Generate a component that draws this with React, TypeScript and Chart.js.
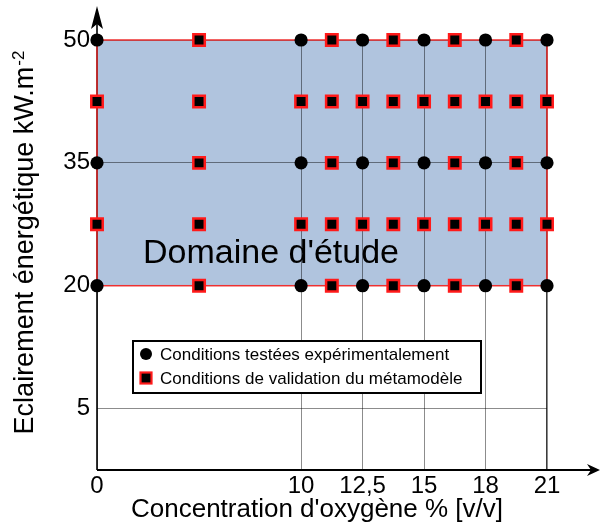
import React, { useEffect, useRef } from 'react';
import { Chart, registerables } from 'chart.js';

Chart.register(...registerables);

// ---- data ----
const xTickValues = [0, 10, 12.5, 15, 18, 21];
const xTickLabels = ['0', '10', '12,5', '15', '18', '21'];
const yTickValues = [5, 20, 35, 50];
const yTickLabels = ['5', '20', '35', '50'];

const testedO2 = [0, 10, 12.5, 15, 18, 21];
const testedIrr = [20, 35, 50];
const validationO2Mid = [5, 11.25, 13.75, 16.5, 19.5];
const validationIrrMid = [27.5, 42.5];
const domainO2 = [0, 21];
const domainIrr = [20, 50];

const seriesLabels = [
  'Conditions testées expérimentalement',
  'Conditions de validation du métamodèle',
];
const domainLabel = "Domaine d'étude";
const xTitle = "Concentration d'oxygène % [v/v]";
const yTitleMain = 'Eclairement énergétique kW.m';
const yTitleSup = '-2';

// ---- schematic (non-uniform) axis layout ----
const X_ANCHORS = [0, 10, 12.5, 15, 18, 21];
const X_POS = [0, 3.32, 4.32, 5.32, 6.32, 7.32];
const Y_ANCHORS = [0, 5, 20, 35, 50];
const Y_POS = [0, 0.5, 1.5, 2.5, 3.5];

function interp(v: number, a: number[], p: number[]) {
  for (let i = 0; i < a.length - 1; i++) {
    if (v <= a[i + 1] || i === a.length - 2) {
      const t = (v - a[i]) / (a[i + 1] - a[i]);
      return p[i] + t * (p[i + 1] - p[i]);
    }
  }
  return p[0];
}
const toX = (v: number) => interp(v, X_ANCHORS, X_POS);
const toY = (v: number) => interp(v, Y_ANCHORS, Y_POS);

const FONT = "'Liberation Sans', Arial, sans-serif";

function buildTested() {
  const pts: { x: number; y: number }[] = [];
  testedIrr.forEach((e) => testedO2.forEach((c) => pts.push({ x: toX(c), y: toY(e) })));
  return pts;
}
function buildValidation() {
  const pts: { x: number; y: number }[] = [];
  testedIrr.forEach((e) => validationO2Mid.forEach((c) => pts.push({ x: toX(c), y: toY(e) })));
  const all = [...testedO2, ...validationO2Mid].sort((a, b) => a - b);
  validationIrrMid.forEach((e) => all.forEach((c) => pts.push({ x: toX(c), y: toY(e) })));
  return pts;
}

const schematicPlugin = {
  id: 'schematic',
  beforeDraw(chart: any) {
    const { ctx, scales } = chart;
    const x0 = scales.x.getPixelForValue(toX(domainO2[0]));
    const x1 = scales.x.getPixelForValue(toX(domainO2[1]));
    const y0 = scales.y.getPixelForValue(toY(domainIrr[1]));
    const y1 = scales.y.getPixelForValue(toY(domainIrr[0]));
    ctx.save();
    ctx.fillStyle = '#b0c4de';
    ctx.fillRect(x0, y0, x1 - x0, y1 - y0);
    ctx.restore();
  },
  beforeDatasetsDraw(chart: any) {
    const { ctx, scales, chartArea } = chart;
    const L = chartArea.left;
    const B = chartArea.bottom;
    ctx.save();
    // domain label
    ctx.fillStyle = '#000';
    ctx.font = `34px ${FONT}`;
    ctx.textBaseline = 'alphabetic';
    ctx.textAlign = 'left';
    ctx.fillText(domainLabel, L + 46, scales.y.getPixelForValue(toY(domainIrr[0])) - 23);

    // axes with arrows
    ctx.strokeStyle = '#000';
    ctx.fillStyle = '#000';
    ctx.lineWidth = 2;
    ctx.beginPath();
    ctx.moveTo(L, B);
    ctx.lineTo(596, B);
    ctx.stroke();
    ctx.beginPath();
    ctx.moveTo(600, B);
    ctx.lineTo(587, B - 6);
    ctx.lineTo(591, B);
    ctx.lineTo(587, B + 6);
    ctx.closePath();
    ctx.fill();
    ctx.lineWidth = 1.6;
    ctx.beginPath();
    ctx.moveTo(L, B);
    ctx.lineTo(L, 12);
    ctx.stroke();
    ctx.beginPath();
    ctx.moveTo(L, 6);
    ctx.lineTo(L - 6, 29);
    ctx.lineTo(L, 24);
    ctx.lineTo(L + 6, 29);
    ctx.closePath();
    ctx.fill();

    // domain border
    const x0 = scales.x.getPixelForValue(toX(domainO2[0]));
    const x1 = scales.x.getPixelForValue(toX(domainO2[1]));
    const y0 = scales.y.getPixelForValue(toY(domainIrr[1]));
    const y1 = scales.y.getPixelForValue(toY(domainIrr[0]));
    ctx.strokeStyle = '#ee3030';
    ctx.lineWidth = 1.5;
    ctx.strokeRect(x0, y0, x1 - x0, y1 - y0);

    // axis titles
    ctx.fillStyle = '#000';
    ctx.font = `26px ${FONT}`;
    ctx.textAlign = 'center';
    ctx.fillText(xTitle, 317, 517);

    ctx.translate(33, 243);
    ctx.rotate(-Math.PI / 2);
    ctx.textAlign = 'left';
    ctx.font = `27px ${FONT}`;
    const w1 = ctx.measureText(yTitleMain).width;
    ctx.font = `17px ${FONT}`;
    const w2 = ctx.measureText(yTitleSup).width;
    const start = -(w1 + w2) / 2;
    ctx.font = `27px ${FONT}`;
    ctx.fillText(yTitleMain, start, 0);
    ctx.font = `17px ${FONT}`;
    ctx.fillText(yTitleSup, start + w1 + 1, -9);
    ctx.restore();
  },
  afterDatasetsDraw(chart: any) {
    const { ctx } = chart;
    const bx = 133, by = 341, bw = 348, bh = 52;
    ctx.save();
    ctx.fillStyle = '#fff';
    ctx.fillRect(bx, by, bw, bh);
    ctx.strokeStyle = '#000';
    ctx.lineWidth = 2;
    ctx.strokeRect(bx, by, bw, bh);
    const ds = chart.data.datasets;
    ds.forEach((d: any, i: number) => {
      const cy = by + 13 + i * 24;
      const cx = bx + 13;
      if (d.pointStyle === 'rect') {
        ctx.fillStyle = d.backgroundColor;
        ctx.strokeStyle = d.borderColor;
        ctx.lineWidth = 2.2;
        ctx.fillRect(cx - 5.5, cy - 5.5, 11, 11);
        ctx.strokeRect(cx - 5.5, cy - 5.5, 11, 11);
      } else {
        ctx.fillStyle = d.backgroundColor;
        ctx.beginPath();
        ctx.arc(cx, cy, 6, 0, Math.PI * 2);
        ctx.fill();
      }
      ctx.fillStyle = '#000';
      ctx.font = `17px ${FONT}`;
      ctx.textAlign = 'left';
      ctx.textBaseline = 'middle';
      ctx.fillText(d.label, cx + 14, cy + 1);
    });
    ctx.restore();
  },
};

export default function App() {
  const ref = useRef<HTMLCanvasElement>(null);
  useEffect(() => {
    if (!ref.current) return;
    const lastX = X_POS.length - 1;
    const chart = new Chart(ref.current, {
      type: 'scatter',
      data: {
        datasets: [
          {
            label: seriesLabels[0],
            data: buildTested(),
            pointStyle: 'circle',
            pointRadius: 6.6,
            backgroundColor: '#000',
            borderColor: '#000',
            borderWidth: 0,
            clip: false,
          } as any,
          {
            label: seriesLabels[1],
            data: buildValidation(),
            pointStyle: 'rect',
            pointRadius: 8.1,
            backgroundColor: '#000',
            borderColor: '#ff1a1a',
            borderWidth: 2.5,
            clip: false,
          } as any,
        ],
      },
      options: {
        animation: false,
        responsive: false,
        devicePixelRatio: 1,
        layout: { padding: { left: 0, right: 53, top: 40, bottom: 0 } },
        plugins: { legend: { display: false }, tooltip: { enabled: false } },
        scales: {
          x: {
            type: 'linear',
            min: 0,
            max: X_POS[lastX],
            afterBuildTicks: (scale: any) => {
              scale.ticks = xTickValues.map((v) => ({ value: toX(v) }));
            },
            afterFit: (scale: any) => {
              scale.height = 58;
            },
            ticks: {
              callback: (_v: any, i: number) => xTickLabels[i],
              font: { family: FONT, size: 24 },
              color: '#000',
              padding: 2,
              maxRotation: 0,
              autoSkip: false,
            },
            grid: {
              drawTicks: false,
              color: (c: any) => (c.index === lastX ? '#3c3c3c' : 'rgba(0,0,0,0.45)'),
              lineWidth: (c: any) => (c.index === lastX ? 1.6 : 1),
            },
            border: { display: false },
          },
          y: {
            type: 'linear',
            min: 0,
            max: Y_POS[Y_POS.length - 1],
            afterBuildTicks: (scale: any) => {
              scale.ticks = yTickValues.map((v) => ({ value: toY(v) }));
            },
            afterFit: (scale: any) => {
              scale.width = 97;
            },
            ticks: {
              callback: (_v: any, i: number) => yTickLabels[i],
              font: { family: FONT, size: 24 },
              color: '#000',
              padding: 7,
              autoSkip: false,
            },
            grid: {
              drawTicks: false,
              color: 'rgba(0,0,0,0.45)',
              lineWidth: 1,
            },
            border: { display: false },
          },
        },
      },
      plugins: [schematicPlugin],
    } as any);
    return () => chart.destroy();
  }, []);
  return (
    <div style={{ position: 'absolute', left: 0, top: 0, width: 600, height: 528, background: '#fff' }}>
      <canvas ref={ref} width={600} height={528} style={{ width: 600, height: 528 }} />
    </div>
  );
}
